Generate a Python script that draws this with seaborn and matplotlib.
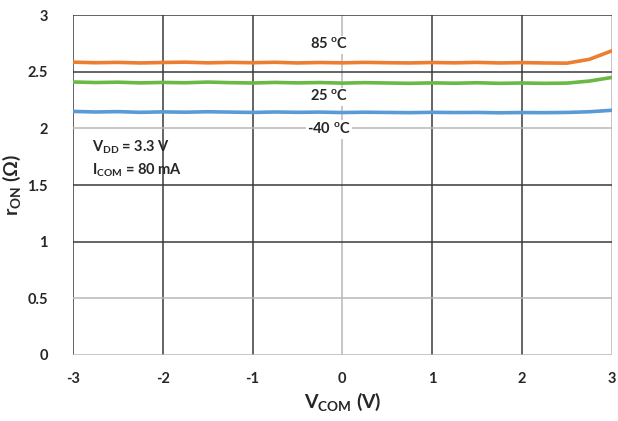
import numpy as np
import pandas as pd
import matplotlib
matplotlib.use("Agg")
import matplotlib.pyplot as plt
import seaborn as sns

# V_COM sweep (V)
vcom = [-3.0, -2.75, -2.5, -2.25, -2.0, -1.75, -1.5, -1.25, -1.0, -0.75, -0.5, -0.25,
        0.0, 0.25, 0.5, 0.75, 1.0, 1.25, 1.5, 1.75, 2.0, 2.25, 2.5, 2.75, 3.0]

# r_ON (ohm)
r_85 = [2.585, 2.580, 2.583, 2.578, 2.582, 2.585, 2.579, 2.583, 2.580, 2.584, 2.578, 2.582,
        2.579, 2.583, 2.580, 2.578, 2.582, 2.579, 2.583, 2.578, 2.581, 2.578, 2.576, 2.610, 2.685]
r_25 = [2.410, 2.405, 2.408, 2.402, 2.406, 2.403, 2.409, 2.404, 2.401, 2.406, 2.402, 2.405,
        2.400, 2.404, 2.401, 2.398, 2.402, 2.399, 2.403, 2.398, 2.401, 2.398, 2.400, 2.418, 2.450]
r_m40 = [2.150, 2.145, 2.148, 2.142, 2.146, 2.143, 2.147, 2.144, 2.141, 2.145, 2.142, 2.144,
         2.140, 2.143, 2.141, 2.139, 2.142, 2.140, 2.141, 2.138, 2.140, 2.139, 2.141, 2.147, 2.160]

temps = ["85 $^\\mathrm{o}$C", "25 $^\\mathrm{o}$C", "-40 $^\\mathrm{o}$C"]
colors = ["#ED7D31", "#6AB944", "#5B9BD5"]

df = pd.concat([
    pd.DataFrame({"vcom": vcom, "ron": r, "temp": t})
    for r, t in zip([r_85, r_25, r_m40], temps)
])

sns.set_style("white")
plt.rcParams["font.family"] = ["Lato", "DejaVu Sans"]
plt.rcParams["font.weight"] = "bold"
plt.rcParams["axes.unicode_minus"] = False
plt.rcParams["mathtext.fontset"] = "custom"
plt.rcParams["mathtext.rm"] = "Lato:bold"
plt.rcParams["mathtext.it"] = "Lato:bold"
plt.rcParams["mathtext.bf"] = "Lato:bold"

fig = plt.figure(figsize=(6.18, 4.21), dpi=100)
ax = fig.add_axes([0.118, 0.157, 0.872, 0.807])

sns.lineplot(data=df, x="vcom", y="ron", hue="temp", palette=colors,
             linewidth=2.6, legend=False, ax=ax, zorder=3)

ax.set_xlim(-3, 3)
ax.set_ylim(0, 3)
ax.set_xticks(np.arange(-3, 4, 1))
ax.set_xticklabels(["-3", "-2", "-1", "0", "1", "2", "3"])
ax.set_yticks(np.arange(0, 3.01, 0.5))
ax.set_yticklabels(["0", "0.5", "1", "1.5", "2", "2.5", "3"])

# grid: mostly dark, a few lighter lines like the original
ax.grid(True, color="#3a3a3a", linewidth=1.1, zorder=1)
for i, gl in enumerate(ax.get_xgridlines()):
    if i in (3, 6):
        gl.set_color("#b8b8b8")
for i, gl in enumerate(ax.get_ygridlines()):
    if i in (0, 1, 4):
        gl.set_color("#b8b8b8")
for side in ["top", "right", "bottom", "left"]:
    ax.spines[side].set_visible(False)

ax.tick_params(axis="x", length=0, labelsize=10.5, pad=12)
ax.tick_params(axis="y", length=0, labelsize=10.5, pad=18)
for lab in ax.get_xticklabels() + ax.get_yticklabels():
    lab.set_fontweight("bold")

ax.set_xlabel("V$_\\mathrm{COM}$ (V)", fontsize=14, fontweight="bold", labelpad=4)
ax.set_ylabel("r$_\\mathrm{ON}$ ($\\Omega$)", fontsize=14, fontweight="bold")
ax.yaxis.set_label_coords(-0.092, 0.5)

label_y = [2.74, 2.28, 1.99]
for t, yy in zip(temps, label_y):
    ax.text(-0.15, yy, t, ha="center", va="center", fontsize=10.5, zorder=4,
            bbox=dict(facecolor="white", edgecolor="none", pad=1))

ax.text(-2.79, 1.83, "V$_\\mathrm{DD}$ = 3.3 V", fontsize=10.5, va="center", zorder=4)
ax.text(-2.79, 1.63, "I$_\\mathrm{COM}$ = 80 mA", fontsize=10.5, va="center", zorder=4)

fig.savefig("out.png", dpi=100)
